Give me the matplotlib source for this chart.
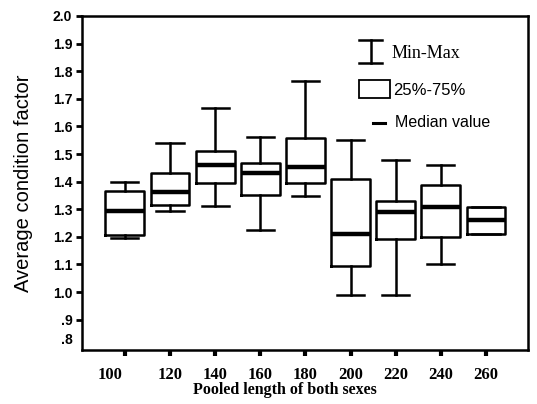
import matplotlib
matplotlib.use('Agg')
import matplotlib.pyplot as plt
from matplotlib.transforms import ScaledTranslation
from matplotlib.patches import Rectangle

# Length classes and box statistics
lengths = ['100', '120', '140', '160', '180', '200', '220', '240', '260']
mins    = [1.195, 1.295, 1.311, 1.224, 1.347, 0.991, 0.991, 1.100, 1.210]
q1      = [1.207, 1.314, 1.394, 1.351, 1.394, 1.094, 1.193, 1.199, 1.210]
medians = [1.293, 1.364, 1.461, 1.433, 1.454, 1.211, 1.289, 1.309, 1.260]
q3      = [1.365, 1.432, 1.510, 1.469, 1.559, 1.409, 1.331, 1.388, 1.309]
maxs    = [1.398, 1.541, 1.665, 1.563, 1.764, 1.551, 1.478, 1.460, 1.309]

ytick_vals = [2.0, 1.9, 1.8, 1.7, 1.6, 1.5, 1.4, 1.3, 1.2, 1.1, 1.0, 0.9, 0.83]
ytick_labels = ['2.0', '1.9', '1.8', '1.7', '1.6', '1.5', '1.4', '1.3', '1.2',
                '1.1', '1.0', '.9', '.8']

stats = []
for i in range(len(lengths)):
    stats.append({'whislo': mins[i], 'q1': q1[i], 'med': medians[i],
                  'q3': q3[i], 'whishi': maxs[i], 'fliers': []})

fig = plt.figure(figsize=(5.37, 4.04), dpi=100)
ax = fig.add_axes([0.1527, 0.1337, 0.8305, 0.8267])

lw = 1.8
positions = list(range(1, len(lengths) + 1))
ax.bxp(stats, positions=positions, widths=0.86, capwidths=0.6,
       showfliers=False,
       boxprops=dict(color='black', linewidth=lw),
       whiskerprops=dict(color='black', linewidth=lw),
       capprops=dict(color='black', linewidth=lw),
       medianprops=dict(color='black', linewidth=3.2))

ax.set_xlim(0.05, 9.93)
ax.set_ylim(0.79, 2.0)

for s in ax.spines.values():
    s.set_linewidth(1.8)

# y axis
ax.set_yticks(ytick_vals)
ax.set_yticklabels(ytick_labels, fontfamily='Liberation Sans',
                   fontweight='bold', fontsize=10)
ax.tick_params(axis='y', direction='out', length=4, width=2, pad=3)
ax.yaxis.get_major_ticks()[-1].tick1line.set_visible(False)
ax.set_ylabel('Average condition factor', fontfamily='Liberation Sans',
              fontsize=14.5, labelpad=14)

# x axis
ax.set_xticks(positions)
ax.set_xticklabels(lengths, fontfamily='Liberation Serif',
                   fontweight='bold', fontsize=12)
ax.tick_params(axis='x', direction='out', length=4, width=3, pad=8)
first = ax.get_xticklabels()[0]
first.set_transform(first.get_transform() +
                    ScaledTranslation(-15 / 100, 0, fig.dpi_scale_trans))
ax.set_xlabel('Pooled length of both sexes', fontfamily='Liberation Serif',
              fontweight='bold', fontsize=11.5, labelpad=0)
ax.xaxis.set_label_coords(0.455, -0.095)

# legend drawn by hand
t = ax.transAxes
ax.plot([0.647, 0.647], [0.859, 0.928], color='black', lw=lw, transform=t)
ax.plot([0.621, 0.673], [0.928, 0.928], color='black', lw=lw, transform=t)
ax.plot([0.621, 0.673], [0.859, 0.859], color='black', lw=lw, transform=t)
ax.text(0.695, 0.889, 'Min-Max', transform=t, va='center', ha='left',
        fontfamily='Liberation Serif', fontsize=13)
ax.add_patch(Rectangle((0.621, 0.754), 0.07, 0.054, transform=t,
                       fill=False, edgecolor='black', lw=1.3))
ax.text(0.697, 0.778, '25%-75%', transform=t, va='center', ha='left',
        fontfamily='Liberation Sans', fontsize=12)
ax.plot([0.652, 0.679], [0.680, 0.680], color='black', lw=2.2, transform=t)
ax.text(0.702, 0.680, 'Median value', transform=t, va='center', ha='left',
        fontfamily='Liberation Sans', fontsize=11.5)

fig.savefig('out.png', dpi=100)
